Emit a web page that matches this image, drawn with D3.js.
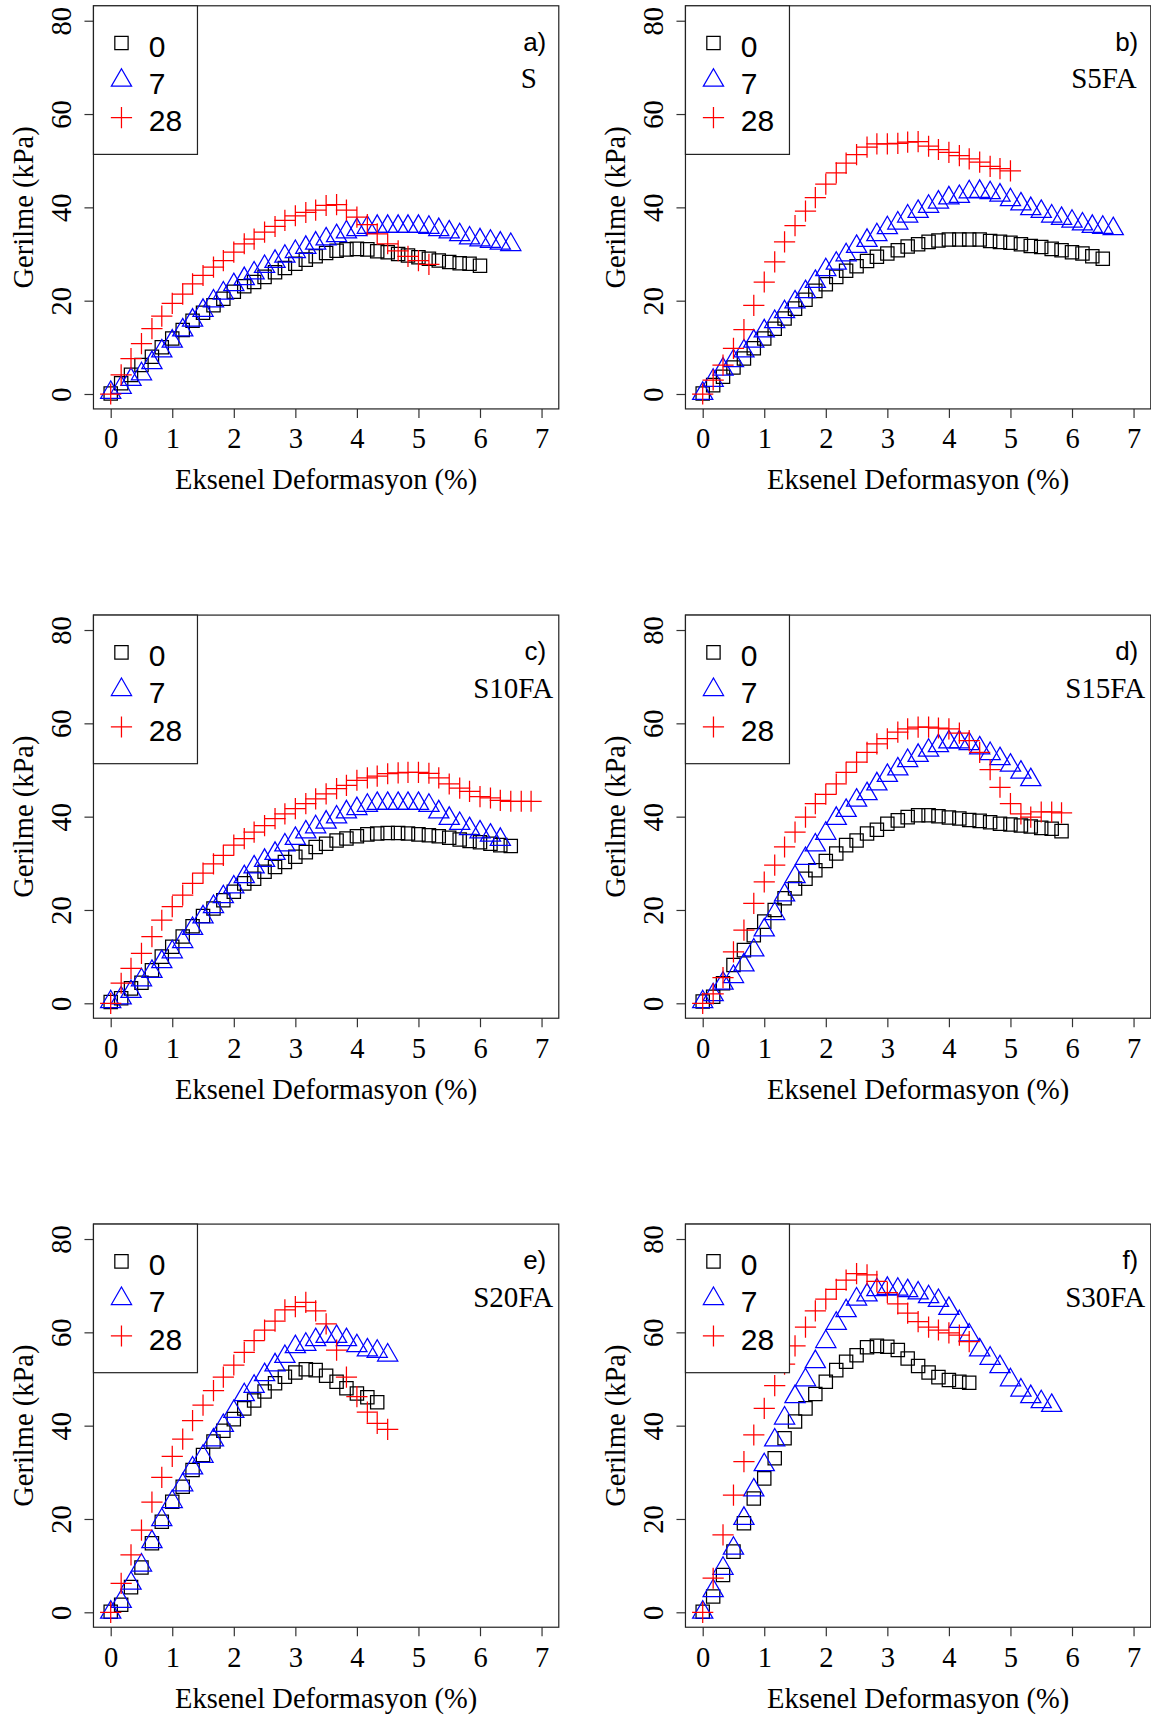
<!DOCTYPE html>
<html>
<head>
<meta charset="utf-8">
<script src="https://cdn.jsdelivr.net/npm/d3@7"></script>
<style>
  html, body { margin: 0; padding: 0; background: #fff; }
  svg { display: block; }
</style>
</head>
<body>
<svg id="chart" width="1151" height="1718"></svg>
<script>
// ---------------- DATA ----------------
// Axial strain levels (%) at which readings were taken
const strain = [0, 0.17, 0.33, 0.5, 0.67, 0.83, 1, 1.17, 1.33, 1.5, 1.67, 1.83, 2, 2.17, 2.33, 2.5,
  2.67, 2.83, 3, 3.17, 3.33, 3.5, 3.67, 3.83, 4, 4.17, 4.33, 4.5, 4.67, 4.83, 5, 5.17, 5.33, 5.5,
  5.67, 5.83, 6, 6.17, 6.33, 6.5, 6.67, 6.83];

const seriesNames = ["0", "7", "28"];
const panelLetters = ["a)", "b)", "c)", "d)", "e)", "f)"];
const mixNames = ["S", "S5FA", "S10FA", "S15FA", "S20FA", "S30FA"];
const xTicks = [0, 1, 2, 3, 4, 5, 6, 7];
const yTicks = [0, 20, 40, 60, 80];
const xTitle = "Eksenel Deformasyon (%)";
const yTitle = "Gerilme (kPa)";

// Stress (kPa) for curing days 0, 7, 28
const S_0 = [0.1, 2.3, 4.1, 6.2, 8.0, 10.0, 11.9, 13.7, 15.7, 17.4, 19.0, 20.4, 21.9, 23.1, 24.0, 25.1,
  26.1, 27.0, 27.9, 28.8, 29.5, 30.2, 30.7, 31.0, 31.1, 31.0, 30.6, 30.4, 30.0, 29.7, 29.3, 29.0, 28.6,
  28.3, 28.0, 27.9, 27.5];
const S_7 = [0.3, 1.4, 3.1, 4.3, 6.7, 9.2, 11.3, 13.7, 15.8, 17.9, 19.9, 21.6, 23.4, 24.7, 25.9, 27.3,
  28.4, 29.5, 30.5, 31.4, 32.3, 33.2, 33.9, 34.7, 35.2, 35.7, 35.9, 35.9, 35.9, 35.9, 35.9, 35.7, 35.2,
  34.7, 34.1, 33.4, 33.0, 32.7, 32.3, 32.0];
const S_28 = [0, 4.1, 7.6, 10.8, 14.0, 16.7, 19.4, 21.4, 23.6, 25.4, 27.2, 28.6, 30.4, 32.2, 33.2, 34.7,
  35.9, 37.2, 38.2, 38.9, 39.4, 40.4, 40.6, 39.4, 37.9, 36.3, 34.3, 32.2, 30.7, 29.5, 28.6, 27.8];

const S5FA_0 = [0.1, 1.9, 3.7, 5.7, 7.6, 9.8, 11.9, 14.0, 16.2, 18.3, 20.2, 22.1, 23.5, 25.1, 26.4, 27.4,
  28.5, 29.4, 30.1, 30.8, 31.6, 32.1, 32.6, 32.9, 33.1, 33.1, 33.1, 33.1, 32.8, 32.6, 32.4, 32.1, 31.7,
  31.5, 31.1, 30.8, 30.4, 30.1, 29.5, 29.0];
const S5FA_7 = [0.1, 2.9, 5.3, 7.1, 9.2, 11.3, 13.5, 15.5, 17.6, 19.7, 21.9, 24.1, 26.6, 28.0, 29.8, 31.6,
  32.9, 34.1, 35.6, 36.6, 38.1, 39.1, 40.2, 41.1, 42.0, 42.3, 43.3, 43.4, 43.1, 42.6, 41.6, 40.7, 39.7,
  39.1, 38.1, 37.6, 37.0, 36.4, 35.9, 35.7, 35.4];
const S5FA_28 = [0, 3.0, 6.2, 9.8, 13.8, 19.0, 24.0, 28.3, 32.6, 36.1, 39.2, 42.1, 45.0, 47.4, 49.5, 51.3,
  52.9, 53.6, 53.6, 53.7, 54.0, 54.1, 53.1, 52.4, 51.8, 51.1, 50.4, 49.7, 48.8, 48.3, 47.8];

const S10FA_0 = [0.3, 1.1, 3.2, 4.4, 7.1, 10.0, 12.1, 14.3, 16.5, 18.7, 20.3, 22.1, 23.9, 25.7, 26.7, 28.2,
  29.2, 30.3, 31.4, 32.4, 33.5, 34.2, 34.9, 35.3, 35.8, 36.2, 36.4, 36.5, 36.5, 36.4, 36.2, 36.0, 35.8,
  35.5, 35.1, 34.8, 34.5, 34.2, 33.9, 33.7];
const S10FA_7 = [0.3, 1.1, 2.5, 5.0, 6.8, 8.9, 11.0, 13.2, 16.0, 18.5, 20.7, 22.8, 24.9, 27.1, 29.2, 30.6,
  32.1, 33.9, 35.3, 36.7, 37.8, 38.8, 39.9, 41.0, 41.7, 42.4, 42.8, 42.8, 42.8, 42.8, 42.8, 42.4, 41.0,
  39.6, 38.5, 37.4, 36.7, 36.0, 35.1];
const S10FA_28 = [0, 4.3, 7.5, 10.7, 14.3, 17.8, 20.7, 23.2, 25.7, 27.9, 29.9, 31.7, 33.9, 35.3, 36.7, 38.1,
  39.6, 40.6, 41.7, 42.8, 43.8, 44.9, 46.0, 46.7, 47.8, 48.3, 48.7, 49.2, 49.4, 49.5, 49.5, 49.3, 48.3,
  47.0, 46.1, 45.4, 44.3, 44.0, 43.5, 43.3, 43.3, 43.3];

const S15FA_0 = [0.4, 1.4, 4.3, 8.2, 11.4, 14.6, 17.5, 20.0, 22.5, 24.6, 26.7, 28.5, 30.5, 32.1, 33.9, 34.9,
  36.4, 37.2, 38.5, 39.2, 39.9, 40.3, 40.3, 40.1, 39.8, 39.6, 39.3, 39.1, 38.8, 38.5, 38.3, 38.1, 37.9,
  37.6, 37.4, 36.9];
const S15FA_7 = [0.3, 1.8, 4.3, 5.7, 8.2, 11.4, 15.7, 19.2, 23.2, 27.1, 31.0, 33.9, 36.4, 39.6, 41.3, 43.5,
  44.9, 47.0, 48.8, 50.2, 52.0, 53.1, 54.2, 55.2, 56.0, 56.0, 55.6, 54.7, 53.5, 52.4, 51.0, 49.5, 47.9];
const S15FA_28 = [0, 2.0, 5.5, 11.0, 15.7, 21.4, 26.0, 29.6, 33.5, 36.7, 39.9, 42.8, 44.8, 47.0, 49.5, 51.7,
  53.8, 55.6, 56.7, 58.1, 58.8, 59.2, 59.2, 59.0, 58.8, 57.9, 56.3, 53.8, 50.1, 46.3, 42.8, 40.6, 39.9,
  41.0, 41.0, 40.8];

const S20FA_0 = [0.1, 1.6, 5.4, 9.6, 14.8, 19.4, 23.7, 26.9, 30.5, 33.7, 36.6, 38.9, 41.4, 43.7, 45.4, 47.3,
  49.1, 50.5, 51.4, 52.1, 51.9, 50.7, 49.4, 48.0, 46.9, 46.1, 45.0];
const S20FA_7 = [0, 2.3, 6.2, 10.1, 15.1, 19.8, 23.7, 27.3, 30.9, 33.4, 36.9, 40.0, 43.0, 46.6, 48.4, 50.9,
  53.0, 54.8, 56.9, 57.4, 58.4, 59.1, 59.1, 58.4, 57.1, 56.2, 55.9, 55.1];
const S20FA_28 = [0, 6.2, 12.3, 17.6, 23.6, 28.9, 33.4, 37.1, 41.1, 44.4, 47.5, 50.4, 53.0, 55.7, 58.2, 60.5,
  62.4, 64.8, 65.5, 66.4, 64.6, 61.8, 56.2, 50.4, 46.2, 42.9, 40.5, 39.2];

const S30FA_0 = [0.1, 3.4, 8.0, 13.0, 19.1, 24.4, 28.7, 33.0, 37.3, 40.9, 43.7, 46.8, 49.4, 51.9, 53.7, 55.1,
  56.8, 57.1, 56.9, 56.2, 54.4, 52.8, 51.4, 50.4, 49.8, 49.4, 49.2];
const S30FA_7 = [0, 4.6, 9.4, 13.7, 20.1, 26.2, 31.6, 36.9, 41.6, 46.2, 49.8, 53.7, 58.0, 61.9, 64.6, 67.1,
  68.0, 69.1, 69.4, 69.2, 68.9, 68.4, 67.6, 66.8, 65.1, 62.3, 59.4, 56.2, 54.4, 52.6, 49.8, 47.6, 46.2,
  45.1, 44.3];
const S30FA_28 = [0, 7.3, 16.6, 25.1, 32.3, 38.0, 43.7, 48.6, 53.2, 57.1, 61.1, 64.6, 67.1, 69.2, 71.2, 72.6,
  72.3, 70.9, 68.5, 66.1, 64.1, 62.3, 61.1, 60.5, 59.9, 59.4, 58.0];

const panelSeries = [
  [S_0, S_7, S_28],
  [S5FA_0, S5FA_7, S5FA_28],
  [S10FA_0, S10FA_7, S10FA_28],
  [S15FA_0, S15FA_7, S15FA_28],
  [S20FA_0, S20FA_7, S20FA_28],
  [S30FA_0, S30FA_7, S30FA_28]
];

// ---------------- LAYOUT / STYLE ----------------
const W = 1151, H = 1718;
const colX0 = [110.7, 702.7];          // pixel of x = 0
const rowY0 = [394, 1003.3, 1612.3];   // pixel of y = 0
const unitX = 61.55, unitY = 4.666;
const nameRightOffset = [22, 14, 5.5, 5.5, 5.5, 5.5];
const colors = ["#000000", "#0000ff", "#ff0000"];
const serif = "'Liberation Serif', 'Times New Roman', Times, serif";
const sans = "'Liberation Sans', Arial, Helvetica, sans-serif";
const R = 7.5; // R-style symbol radius
const symStroke = 1.25;

const symbolPath = [
  // square (pch 0)
  () => { const h = R * 0.88623; return `M${-h},${-h}H${h}V${h}H${-h}Z`; },
  // triangle point up (pch 2)
  () => d3.symbol(d3.symbolTriangle, 3 * Math.sqrt(3) * Math.pow(0.7776 * R, 2))(),
  // plus (pch 3)
  () => { const a = R * Math.SQRT2; return `M${-a},0H${a}M0,${-a}V${a}`; }
];

const svg = d3.select("#chart");
svg.append("rect").attr("width", W).attr("height", H).attr("fill", "#fff");

panelSeries.forEach((series, p) => {
  const col = p % 2, row = Math.floor(p / 2);
  const x = d3.scaleLinear().domain([0, 7]).range([colX0[col], colX0[col] + 7 * unitX]);
  const y = d3.scaleLinear().domain([0, 80]).range([rowY0[row], rowY0[row] - 80 * unitY]);
  const left = x(-0.28), right = x(7.28), top = y(83.2), bottom = y(-3.2);
  const g = svg.append("g");

  // x axis
  const xa = g.append("g").attr("transform", `translate(0,${bottom})`)
    .call(d3.axisBottom(x).tickValues(xTicks).tickSize(9).tickFormat(d3.format("d")));
  xa.select(".domain").remove();
  xa.selectAll("line").attr("stroke", "#333").attr("stroke-width", 1.2);
  xa.selectAll("text").attr("y", 39.4).attr("dy", null)
    .attr("font-family", serif).attr("font-size", 28.5).attr("fill", "#000");

  // y axis
  const ya = g.append("g").attr("transform", `translate(${left},0)`)
    .call(d3.axisLeft(y).tickValues(yTicks).tickSize(9).tickFormat(d3.format("d")));
  ya.select(".domain").remove();
  ya.selectAll("line").attr("stroke", "#333").attr("stroke-width", 1.2);
  ya.selectAll("text").attr("x", null).attr("dy", null)
    .attr("transform", "translate(-22,0) rotate(-90)")
    .attr("text-anchor", "middle")
    .attr("font-family", serif).attr("font-size", 28.5).attr("fill", "#000");

  // titles
  g.append("text").attr("x", (left + right) / 2).attr("y", bottom + 80.4)
    .attr("text-anchor", "middle").attr("font-family", serif).attr("font-size", 28.5)
    .text(xTitle);
  g.append("text")
    .attr("transform", `translate(${left - 60.5},${(top + bottom) / 2}) rotate(-90)`)
    .attr("text-anchor", "middle").attr("font-family", serif).attr("font-size", 28.5)
    .text(yTitle);

  // points: black, blue, red
  series.forEach((vals, s) => {
    g.append("g").selectAll("path").data(vals).join("path")
      .attr("transform", (d, i) => `translate(${x(strain[i])},${y(d)})`)
      .attr("d", symbolPath[s]())
      .attr("fill", "none").attr("stroke", colors[s]).attr("stroke-width", symStroke);
  });

  // plot box
  g.append("rect").attr("x", left).attr("y", top)
    .attr("width", right - left).attr("height", bottom - top)
    .attr("fill", "none").attr("stroke", "#222").attr("stroke-width", 1.2);

  // legend
  const lg = g.append("g").attr("transform", `translate(${left},${top})`);
  lg.append("rect").attr("width", 104).attr("height", 148.6)
    .attr("fill", "#fff").attr("stroke", "#222").attr("stroke-width", 1.2);
  seriesNames.forEach((nm, s) => {
    const cy = 37.3 * (s + 1);
    lg.append("path").attr("transform", `translate(28,${cy})`).attr("d", symbolPath[s]())
      .attr("fill", "none").attr("stroke", colors[s]).attr("stroke-width", symStroke);
    lg.append("text").attr("x", 55.3).attr("y", cy + 13.8)
      .attr("font-family", sans).attr("font-size", 30).text(nm);
  });

  // panel labels
  g.append("text").attr("x", right - 12.5).attr("y", top + 45)
    .attr("text-anchor", "end").attr("font-family", sans).attr("font-size", 26)
    .text(panelLetters[p]);
  g.append("text").attr("x", right - nameRightOffset[p]).attr("y", top + 82.5)
    .attr("text-anchor", "end").attr("font-family", serif).attr("font-size", 29)
    .text(mixNames[p]);
});
</script>
</body>
</html>
